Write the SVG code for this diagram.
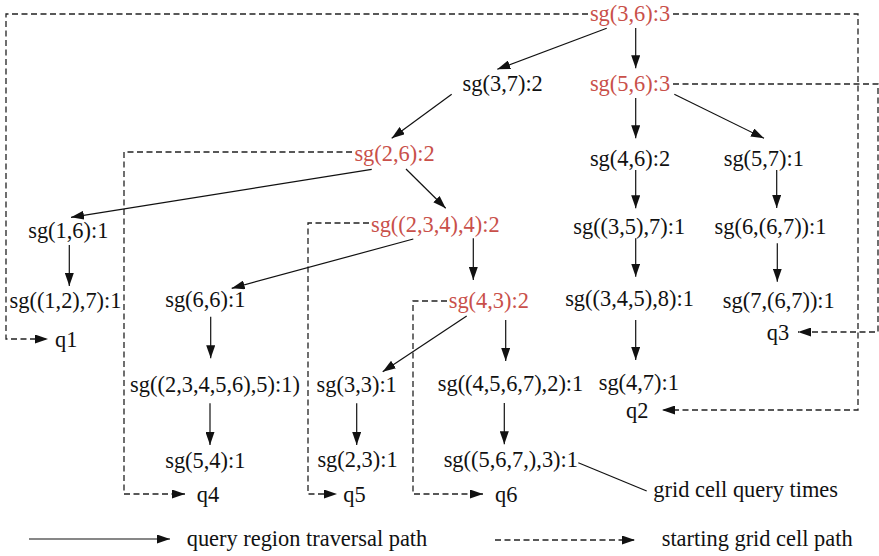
<svg xmlns="http://www.w3.org/2000/svg" width="879" height="556" viewBox="0 0 879 556">
<style>
text{font-family:"Liberation Serif","Times New Roman",serif;font-size:22.4px;fill:#111;text-anchor:middle}
text.r{fill:#c9504a}
text.l{text-anchor:start}
.s{fill:none;stroke:#111;stroke-width:1.2}
.d{fill:none;stroke:#222;stroke-width:1.3;stroke-dasharray:6,3.5}
.a{marker-end:url(#ah)}
</style>
<defs>
<marker id="ah" markerUnits="userSpaceOnUse" markerWidth="14" markerHeight="9" refX="13" refY="4.5" orient="auto">
<path d="M0,0 L13,4.5 L0,9 z" fill="#111"/>
</marker>
</defs>
<g id="connectors">
<path class="d a" d="M588,14 H6 V339 H48"/>
<path class="d a" d="M673,14 H858 V410 H662"/>
<path class="d a" d="M673,84 H878 V332 H798"/>
<path class="d a" d="M352,152 H124 V494 H185"/>
<path class="d a" d="M369,223 H308 V494 H337"/>
<path class="d a" d="M447,301 H413 V494 H483"/>
<line class="s a" x1="606.7" y1="28.3" x2="497.3" y2="69.3"/>
<line class="s a" x1="635.7" y1="28" x2="635.7" y2="68.3"/>
<line class="s a" x1="451.7" y1="94.3" x2="391.7" y2="138.3"/>
<line class="s a" x1="635.7" y1="98" x2="635.7" y2="138.3"/>
<line class="s a" x1="674.3" y1="94.3" x2="764" y2="138.3"/>
<line class="s a" x1="371.7" y1="169.3" x2="71" y2="217.3"/>
<line class="s a" x1="406" y1="169" x2="445.7" y2="208.3"/>
<line class="s a" x1="69.3" y1="245" x2="69.3" y2="286"/>
<line class="s a" x1="413.3" y1="239" x2="231.7" y2="288.3"/>
<line class="s a" x1="473.3" y1="238.3" x2="473.3" y2="280"/>
<line class="s a" x1="635.7" y1="170" x2="635.7" y2="208.3"/>
<line class="s a" x1="776.7" y1="170" x2="776.7" y2="208"/>
<line class="s a" x1="635.7" y1="238.3" x2="635.7" y2="276.7"/>
<line class="s a" x1="777.3" y1="243.3" x2="777.3" y2="281.7"/>
<line class="s a" x1="210.7" y1="316.7" x2="210.7" y2="358.3"/>
<line class="s a" x1="466.7" y1="316" x2="382.7" y2="371.7"/>
<line class="s a" x1="505.7" y1="320" x2="505.7" y2="361"/>
<line class="s a" x1="635.7" y1="320" x2="635.7" y2="360"/>
<line class="s a" x1="210" y1="403.3" x2="210" y2="445"/>
<line class="s a" x1="356.7" y1="403.3" x2="356.7" y2="445"/>
<line class="s a" x1="504.3" y1="403" x2="504.3" y2="444.3"/>
<line class="s" x1="578.3" y1="462.7" x2="646.7" y2="491"/>
<line class="s a" x1="29" y1="539" x2="170" y2="539"/>
<line class="d a" x1="495" y1="540" x2="635" y2="540"/>
</g>
<g id="n-sg36"><text class="r" x="630" y="21">sg(3,6):3</text></g>
<g id="n-sg37"><text x="502.7" y="91">sg(3,7):2</text></g>
<g id="n-sg56"><text class="r" x="630" y="91">sg(5,6):3</text></g>
<g id="n-sg26"><text class="r" x="394.5" y="161">sg(2,6):2</text></g>
<g id="n-sg46"><text x="630" y="166">sg(4,6):2</text></g>
<g id="n-sg57"><text x="763.8" y="166">sg(5,7):1</text></g>
<g id="n-sg16"><text x="68.3" y="238">sg(1,6):1</text></g>
<g id="n-sg2344"><text class="r" x="435.3" y="232">sg((2,3,4),4):2</text></g>
<g id="n-sg357"><text x="629.2" y="234">sg((3,5),7):1</text></g>
<g id="n-sg667"><text x="770.5" y="234">sg(6,(6,7)):1</text></g>
<g id="n-sg127"><text x="65.5" y="308">sg((1,2),7):1</text></g>
<g id="n-sg66"><text x="205.3" y="307">sg(6,6):1</text></g>
<g id="n-sg43"><text class="r" x="488.8" y="308">sg(4,3):2</text></g>
<g id="n-sg3458"><text x="629.5" y="306">sg((3,4,5),8):1</text></g>
<g id="n-sg767"><text x="778.8" y="308">sg(7,(6,7)):1</text></g>
<g id="n-q1"><text class="l" x="55" y="347">q1</text></g>
<g id="n-q3"><text class="l" x="766.7" y="340">q3</text></g>
<g id="n-sg234565"><text x="215" y="391.5">sg((2,3,4,5,6),5):1)</text></g>
<g id="n-sg33"><text x="356.7" y="391.5">sg(3,3):1</text></g>
<g id="n-sg45672"><text x="510.5" y="391">sg((4,5,6,7),2):1</text></g>
<g id="n-sg47"><text x="638.8" y="390">sg(4,7):1</text></g>
<g id="n-q2"><text class="l" x="626" y="418">q2</text></g>
<g id="n-sg54"><text x="205.3" y="468">sg(5,4):1</text></g>
<g id="n-sg23"><text x="357.5" y="467">sg(2,3):1</text></g>
<g id="n-sg5673"><text x="510.8" y="467">sg((5,6,7,),3):1</text></g>
<g id="n-q4"><text class="l" x="196.7" y="502">q4</text></g>
<g id="n-q5"><text class="l" x="343.3" y="502">q5</text></g>
<g id="n-q6"><text class="l" x="495" y="502">q6</text></g>
<g id="n-note"><text class="l" x="653.3" y="496.5">grid cell query times</text></g>
<g id="legend">
<text class="l" x="186.7" y="546">query region traversal path</text>
<text class="l" x="661.7" y="546">starting grid cell path</text>
</g>
</svg>
